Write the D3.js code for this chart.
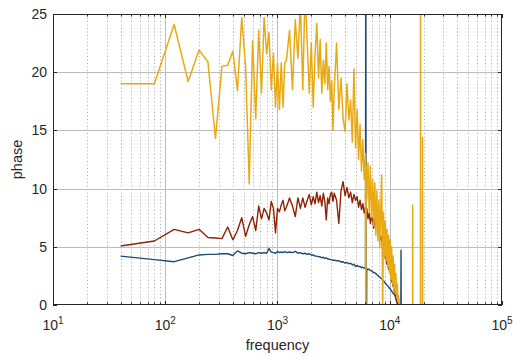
<!DOCTYPE html>
<html><head><meta charset="utf-8">
<script src="https://cdn.jsdelivr.net/npm/d3@7"></script>
<style>
html,body{margin:0;padding:0;background:#fff;}
svg{display:block;font-family:"Liberation Sans",Arial,sans-serif;}
</style></head>
<body>
<svg id="chart" width="513" height="358"></svg>
<script>
// ---- data ----
const freq = [
  40,80,120,160,200,240,280,320,360,400,440,480,520,560,600,640,680,720,760,800,840,880,920,960,1000,1040,1080,1120,1160,1200,
  1280,1360,1440,1520,1600,1680,1760,1840,1920,2000,2080,2160,2240,2320,2400,2480,2560,2640,2720,2800,2880,2960,3040,3120,3200,
  3360,3520,3680,3840,4000,4160,4320,4480,4640,4800,4960,5120,5280,5440,5600,5760,5920,6080,6120,6160,
  6240,6400,6560,6720,6880,7040,7200,7360,7520,7680,7840,8000,8160,8320,8480,8640,8800,8960,9120,9280,9440,9600,9760,9920,
  10080,10240,10400,10560,10720,10880,11040,11200,11360,11520,11680,11840,12000,
  12200,12400,12560,12600,12640,13000,14000,15000,15960,16000,16040,17000,18000,18760,18800,18840,19560,19600,19640,20000
];
const phaseYellow = [
  19.0,19.0,24.1,19.2,21.9,20.9,14.3,20.5,20.6,21.8,18.4,24.7,20.5,10.4,22.7,16.0,23.6,18.2,24.7,21.6,23.4,18.5,21.6,17.0,20.8,16.8,20.8,17.0,20.8,21.0,
  23.6,18.5,24.5,21.2,26.0,18.5,27.0,22.5,18.2,22.5,17.0,21.5,24.2,19.5,22.8,18.2,21.0,19.0,22.5,18.5,20.5,17.5,19.3,15.0,18.5,
  22.5,16.8,19.5,16.0,14.9,19.0,15.9,17.6,14.0,20.3,13.5,16.8,12.5,15.5,11.5,14.2,10.8,13.0,-5,12.0,
  9.0,12.2,8.0,11.9,7.5,10.8,6.8,10.5,6.0,9.8,5.5,9.0,5.0,8.5,11.2,-1,8.0,4.2,7.2,3.8,6.5,3.2,6.0,2.8,
  5.6,2.2,5.0,1.8,4.2,1.3,3.5,1.0,2.7,0.6,1.8,0.3,0.8,
  0,0,0,0,0,0,0,0,0,8.6,0,0,0,0,40,0,0,14.4,0,0
];
const phaseRed = [
  5.07,5.5,6.5,6.2,6.5,5.8,5.75,5.7,6.7,5.6,6.4,7.5,5.9,6.9,7.6,6.4,8.5,7.4,8.3,7.9,7.3,8.9,8.3,6.2,8.3,8.0,8.6,9.0,8.1,8.4,
  9.2,8.5,7.6,9.2,8.3,9.2,8.4,9.0,9.5,8.6,9.3,8.7,9.7,8.8,9.4,8.5,9.6,8.9,7.3,9.2,8.7,9.5,9.7,8.9,9.6,
  9.0,7.0,9.8,10.6,9.4,10.1,9.2,9.7,8.8,9.5,9.0,9.3,8.4,9.0,8.2,8.7,7.9,8.4,7.8,7.6,
  8.3,7.4,7.9,7.0,7.6,7.3,6.6,7.4,6.9,7.3,6.3,6.5,5.8,5.6,5.9,4.8,4.4,4.7,4.0,3.9,3.5,3.6,3.1,3.0,
  2.8,2.5,2.0,2.1,1.6,1.5,1.1,1.0,0.6,0.4,0.2,0.1,0,
  0,0,0,0,0,0,0,0,0,0,0,0,0,0,0,0,0,0,0,0
];
const phaseBlue = [
  4.2,3.9,3.72,4.05,4.3,4.35,4.35,4.4,4.4,4.25,4.65,4.45,4.4,4.5,4.45,4.4,4.5,4.45,4.5,4.45,4.85,4.55,4.5,4.45,4.6,4.5,4.55,4.5,4.6,4.5,
  4.55,4.5,4.6,4.45,4.5,4.4,4.45,4.35,4.4,4.3,4.3,4.2,4.2,4.15,4.15,4.05,4.1,4.0,4.05,3.95,3.95,3.9,3.9,3.85,3.85,
  3.8,3.8,3.7,3.72,3.6,3.65,3.55,3.58,3.45,3.5,3.3,3.4,3.3,3.32,3.2,3.25,3.15,3.2,40,-10,
  3.1,3.05,3.08,2.95,2.95,2.85,2.8,2.75,2.7,2.6,2.55,2.45,2.4,2.3,2.25,2.15,2.1,1.95,1.9,1.8,1.7,1.65,1.55,1.45,
  1.4,1.3,1.2,1.1,1.0,0.95,0.85,0.7,0.5,0.3,0.1,0,0,
  0,0,0,4.7,0,0,0,0,0,0,0,0,0,0,0,0,0,0,0,0
];
const xTickExps = [1,2,3,4,5];
const yTicks = [0,5,10,15,20,25];
const xLabel = "frequency";
const yLabel = "phase";

// ---- layout ----
const L = 53, R = 502, T = 14, B = 305;
const svg = d3.select("#chart");
const x = d3.scaleLog().domain([10,100000]).range([L,R]);
const y = d3.scaleLinear().domain([0,25]).range([B,T]);

const minorVals = [];
for (let e = 1; e < 5; e++) for (let m = 2; m <= 9; m++) minorVals.push(m*Math.pow(10,e));
const majorVals = xTickExps.map(e => Math.pow(10,e));

// grid
const g = svg.append("g");
g.selectAll(".mi").data(minorVals).enter().append("line")
  .attr("x1", d => Math.round(x(d))+0.5).attr("x2", d => Math.round(x(d))+0.5)
  .attr("y1", T).attr("y2", B)
  .attr("stroke", "#9c9c9c").attr("stroke-width", 0.9).attr("stroke-dasharray", "1,2.5");
g.selectAll(".ma").data(majorVals.slice(1,-1)).enter().append("line")
  .attr("x1", d => Math.round(x(d))+0.5).attr("x2", d => Math.round(x(d))+0.5)
  .attr("y1", T).attr("y2", B)
  .attr("stroke", "#bcbcbc").attr("stroke-width", 1);
g.selectAll(".hy").data(yTicks.slice(1,-1)).enter().append("line")
  .attr("x1", L).attr("x2", R)
  .attr("y1", d => Math.round(y(d))+0.5).attr("y2", d => Math.round(y(d))+0.5)
  .attr("stroke", "#bcbcbc").attr("stroke-width", 1);

// clip
svg.append("clipPath").attr("id","clip").append("rect")
  .attr("x", L).attr("y", T).attr("width", R-L).attr("height", B-T);

const line = d3.line().x((d,i) => x(freq[i])).y(d => y(d));
const plot = svg.append("g").attr("clip-path","url(#clip)");
const series = [
  {vals: phaseBlue, color: "#1c4a72", w: 1.4},
  {vals: phaseRed, color: "#8e2206", w: 1.4},
  {vals: phaseYellow, color: "#e8aa14", w: 1.5}
];
series.forEach(s => {
  plot.append("path").datum(s.vals).attr("d", line)
    .attr("fill","none").attr("stroke", s.color).attr("stroke-width", s.w)
    .attr("stroke-linejoin","round");
});

// axes box and ticks
const ax = svg.append("g").attr("stroke","#262626").attr("fill","none");
ax.append("rect").attr("x", L+0.5).attr("y", T+0.5).attr("width", R-L-1).attr("height", B-T-1)
  .attr("stroke-width", 1);
majorVals.forEach(v => {
  const px = Math.round(x(v))+0.5;
  ax.append("line").attr("x1",px).attr("x2",px).attr("y1",B).attr("y2",B-4);
  ax.append("line").attr("x1",px).attr("x2",px).attr("y1",T).attr("y2",T+4);
});
minorVals.forEach(v => {
  const px = Math.round(x(v))+0.5;
  ax.append("line").attr("x1",px).attr("x2",px).attr("y1",B).attr("y2",B-2.5);
  ax.append("line").attr("x1",px).attr("x2",px).attr("y1",T).attr("y2",T+2.5);
});
yTicks.forEach(v => {
  const py = Math.round(y(v))+0.5;
  ax.append("line").attr("x1",L).attr("x2",L+4).attr("y1",py).attr("y2",py);
  ax.append("line").attr("x1",R).attr("x2",R-4).attr("y1",py).attr("y2",py);
});

// tick labels
const tl = svg.append("g").attr("fill","#262626").attr("font-size", 14);
yTicks.forEach(v => {
  tl.append("text").attr("x", L-6).attr("y", y(v)+5).attr("text-anchor","end").text(v);
});
xTickExps.forEach(e => {
  const t = tl.append("text").attr("x", x(Math.pow(10,e))).attr("y", B+25).attr("text-anchor","middle");
  t.append("tspan").text("10");
  t.append("tspan").attr("dy", -6).attr("font-size", 10).text(e);
});

// axis labels
svg.append("text").attr("x", (L+R)/2).attr("y", 350).attr("text-anchor","middle")
  .attr("font-size", 14.5).attr("fill","#262626").text(xLabel);
svg.append("text").attr("transform", `translate(22,${(T+B)/2}) rotate(-90)`)
  .attr("text-anchor","middle").attr("font-size", 14.5).attr("fill","#262626").text(yLabel);
</script>
</body></html>
